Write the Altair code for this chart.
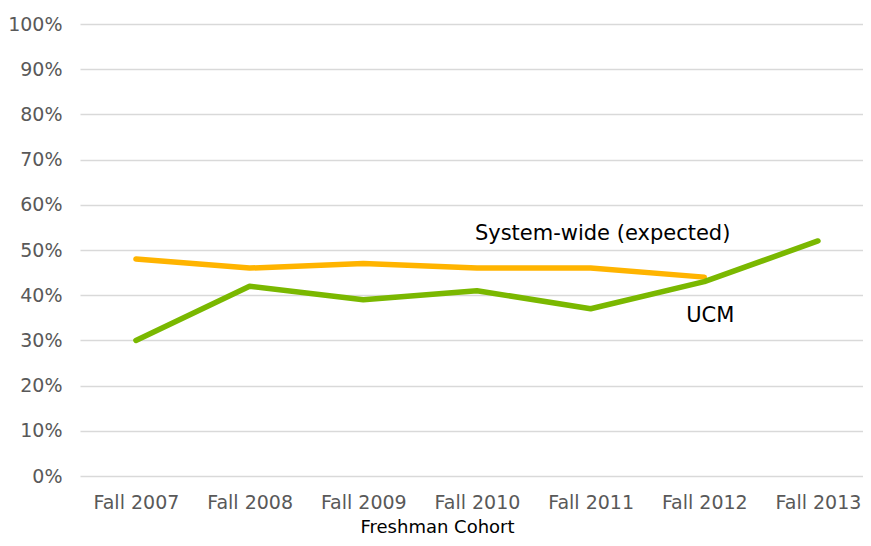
import altair as alt
import pandas as pd

cohorts = ["Fall 2007", "Fall 2008", "Fall 2009", "Fall 2010", "Fall 2011", "Fall 2012", "Fall 2013"]
system_wide = [48, 46, 47, 46, 46, 44]
ucm = [30, 42, 39, 41, 37, 43, 52]

rows = []
for c, v in zip(cohorts, system_wide):
    rows.append({"cohort": c, "value": v / 100, "series": "System-wide (expected)"})
for c, v in zip(cohorts, ucm):
    rows.append({"cohort": c, "value": v / 100, "series": "UCM"})
df = pd.DataFrame(rows)

label_cohorts = ["Fall 2011", "Fall 2012"]
label_values = [0.535, 0.355]
label_texts = ["System-wide (expected)", "UCM"]
labels = pd.DataFrame({"cohort": label_cohorts, "value": label_values, "text": label_texts})

font = "DejaVu Sans"
xscale = alt.Scale(type="point", domain=cohorts, padding=0.444, align=0.554)

x = alt.X("cohort:N", sort=cohorts, scale=xscale,
          axis=alt.Axis(title="Freshman Cohort", labelAngle=0, labelFontSize=19, labelColor="#595959",
                        labelFont=font, titleFont=font, titleFontSize=18, titleFontWeight="normal",
                        titleColor="#000000", domain=False, ticks=False, grid=False,
                        labelPadding=17, titlePadding=6, titleX=357, titleAlign="center"))
y = alt.Y("value:Q", scale=alt.Scale(domain=[0, 1]),
          axis=alt.Axis(title=None, format=".0%", values=[i / 10 for i in range(11)], labelFontSize=19,
                        labelColor="#595959", labelFont=font, domain=False, ticks=False, labelPadding=18,
                        gridColor="#d9d9d9", gridWidth=1.5))

lines = alt.Chart(df).mark_line(strokeWidth=5.5, strokeCap="round", strokeJoin="round").encode(
    x=x, y=y,
    color=alt.Color("series:N", scale=alt.Scale(domain=["System-wide (expected)", "UCM"],
                                                range=["#FFB400", "#7AB800"]), legend=None),
)

text1 = alt.Chart(labels.iloc[[0]]).mark_text(fontSize=21, font=font, color="#000000", dx=12).encode(
    x=alt.X("cohort:N", sort=cohorts, scale=xscale), y="value:Q", text="text:N")
text2 = alt.Chart(labels.iloc[[1]]).mark_text(fontSize=21, font=font, color="#000000", dx=6).encode(
    x=alt.X("cohort:N", sort=cohorts, scale=xscale), y="value:Q", text="text:N")

chart = (lines + text1 + text2).properties(
    width=783, height=452,
    padding={"left": 72, "top": 16, "right": 0, "bottom": 61},
    autosize=alt.AutoSizeParams(type="none"),
    background="white",
).configure_view(stroke=None)

chart.save("out.html", embed_options={"renderer": "svg", "actions": False})
